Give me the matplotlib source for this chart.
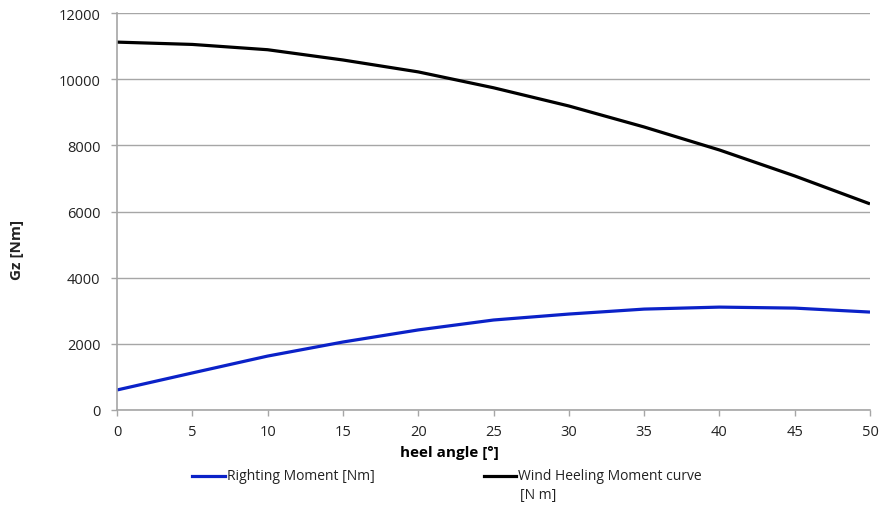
import matplotlib
matplotlib.use("Agg")
import matplotlib.pyplot as plt
from matplotlib.lines import Line2D

plt.rcParams['font.family'] = ['Open Sans', 'DejaVu Sans']

heel_angle = [0, 5, 10, 15, 20, 25, 30, 35, 40, 45, 50]
righting_moment = [605, 1120, 1630, 2055, 2420, 2720, 2900, 3050, 3110, 3080, 2960]
wind_heeling = [11120, 11050, 10890, 10580, 10220, 9740, 9190, 8555, 7860, 7075, 6230]
y_ticks = [0, 2000, 4000, 6000, 8000, 10000, 12000]
x_ticks = [0, 5, 10, 15, 20, 25, 30, 35, 40, 45, 50]

fig = plt.figure(figsize=(8.82, 5.06), dpi=100)
ax = fig.add_axes([117/882, 1-411/506, (870-117)/882, (411-14)/506])

grid_c = '#a6a6a6'
text_c = '#222222'
ax.plot(heel_angle, righting_moment, color='#0b22c8', lw=2.3, solid_capstyle='butt')
ax.plot(heel_angle, wind_heeling, color='black', lw=2.3, solid_capstyle='butt')

ax.set_xlim(0, 50)
ax.set_ylim(0, 12000)
ax.set_xticks(x_ticks)
ax.set_yticks(y_ticks)
ax.yaxis.grid(True, color=grid_c, lw=1)
ax.set_axisbelow(True)
for s in ['top', 'right']:
    ax.spines[s].set_visible(False)
for s in ['left', 'bottom']:
    ax.spines[s].set_color(grid_c)
    ax.spines[s].set_linewidth(1.2)
ax.tick_params(axis='both', colors=grid_c, labelcolor=text_c, labelsize=10.5, length=4, width=1)
ax.tick_params(axis='y', pad=8)
ax.tick_params(axis='x', pad=6)

ax.set_xlabel('heel angle [°]', fontsize=11, fontweight='bold')
ax.xaxis.set_label_coords((449-117)/753, -(453-411)/397, transform=ax.transAxes)
ax.xaxis.label.set_va('center')
fig.text(17/882, 1-250/506, 'Gz [Nm]', rotation=90, fontsize=11, fontweight='bold',
         ha='center', va='center', color=text_c)

# legend
fig.add_artist(Line2D([192/882, 225/882], [1-477/506, 1-477/506], color='#0b22c8', lw=2.3))
fig.text(227/882, 1-477/506, 'Righting Moment [Nm]', fontsize=10, va='center', color=text_c)
fig.add_artist(Line2D([484/882, 516/882], [1-477/506, 1-477/506], color='black', lw=2.3))
fig.text(518/882, 1-477/506, 'Wind Heeling Moment curve', fontsize=10, va='center', color=text_c)
fig.text(520/882, 1-496/506, '[N m]', fontsize=10, va='center', color=text_c)

fig.savefig('out.png', dpi=100)
